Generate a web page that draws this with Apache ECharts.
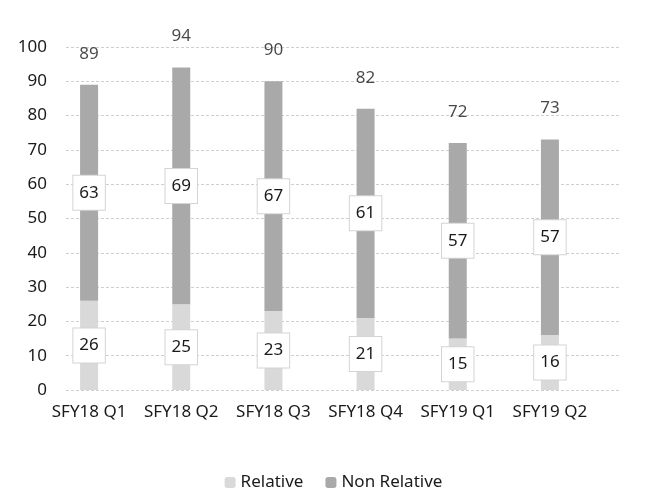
<!DOCTYPE html>
<html><head><meta charset="utf-8">
<script src="https://cdn.jsdelivr.net/npm/echarts@6/dist/echarts.min.js"></script>
<style>html,body{margin:0;padding:0;background:#fff}#c{width:667px;height:495px}</style>
</head><body><div id="c"></div>
<script>
const categories = ['SFY18 Q1','SFY18 Q2','SFY18 Q3','SFY18 Q4','SFY19 Q1','SFY19 Q2'];
const relative = [26, 25, 23, 21, 15, 16];
const nonRelative = [63, 69, 67, 61, 57, 57];
const totals = [89, 94, 90, 82, 72, 73];
const yTicks = [0, 10, 20, 30, 40, 50, 60, 70, 80, 90, 100];

const FONT = 'Noto Sans';
const TXT = '#1a1a1a';
const boxLabel = {
  show: true, position: 'inside', color: TXT, fontFamily: FONT, fontSize: 17,
  backgroundColor: '#fff', borderColor: '#d4d4d4', borderWidth: 1,
  padding: [8, 6, 7, 6], lineHeight: 19
};
const chart = echarts.init(document.getElementById('c'), null, {renderer: 'canvas'});
chart.setOption({
  animation: false,
  textStyle: {fontFamily: FONT},
  grid: [
    {left: 66, right: 47, top: 47, bottom: 105},
    {left: 43, right: 71, top: 47, bottom: 105}
  ],
  xAxis: [
    {gridIndex: 0, type: 'category', data: categories, show: false},
    {gridIndex: 1, type: 'category', data: categories,
     axisLine: {show: false}, axisTick: {show: false},
     axisLabel: {color: TXT, fontSize: 17, fontFamily: FONT, margin: 14, interval: 0, hideOverlap: false}}
  ],
  yAxis: [
    {gridIndex: 0, type: 'value', min: yTicks[0], max: yTicks[yTicks.length-1], interval: 10,
     axisLine: {show: false}, axisTick: {show: false},
     axisLabel: {color: TXT, fontSize: 17, fontFamily: FONT, margin: 19},
     splitLine: {lineStyle: {color: '#cfcfcf', type: [3, 2], width: 1}}},
    {gridIndex: 1, type: 'value', min: 0, max: 100, show: false, splitLine: {show: false}}
  ],
  legend: {
    data: ['Relative', 'Non Relative'], top: 469, left: 'center',
    itemWidth: 11, itemHeight: 11, itemGap: 22,
    textStyle: {color: TXT, fontSize: 17, fontFamily: FONT}
  },
  series: [
    {name: 'Relative', type: 'bar', stack: 's', xAxisIndex: 1, yAxisIndex: 1,
     barWidth: 18, data: relative, itemStyle: {color: '#d9d9d9'}, label: boxLabel},
    {name: 'Non Relative', type: 'bar', stack: 's', xAxisIndex: 1, yAxisIndex: 1,
     barWidth: 18, data: nonRelative, itemStyle: {color: '#a9a9a9'}, label: boxLabel},
    {name: 'Total', type: 'scatter', xAxisIndex: 1, yAxisIndex: 1, symbolSize: 0,
     data: totals, silent: true,
     label: {show: true, position: 'inside', offset: [0, -31], color: TXT, fontSize: 17, fontFamily: FONT}}
  ]
});
</script></body></html>
